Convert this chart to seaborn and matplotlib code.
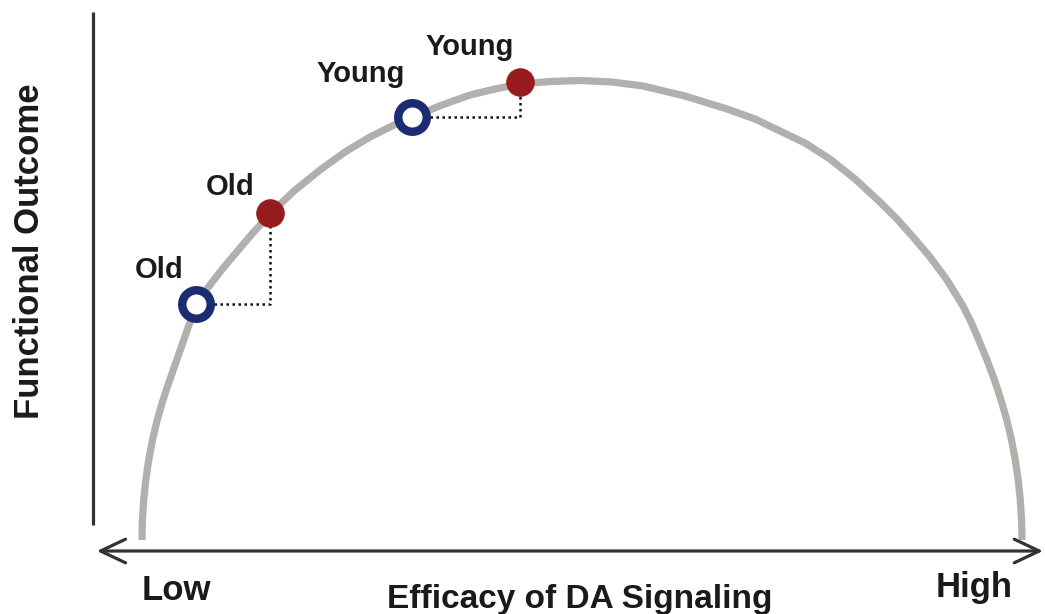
import matplotlib
matplotlib.use("Agg")
import matplotlib.pyplot as plt
import seaborn as sns
import pandas as pd

# ---- data (efficacy of DA signaling vs functional outcome, arbitrary units) ----
curve_x = [4.90, 4.94, 5.07, 5.28, 5.57, 5.95, 6.42, 7.00, 7.60, 8.20, 8.90, 9.60,
           10.30, 11.10, 12.00, 13.10, 14.20, 15.90, 17.70, 20.10, 22.70, 25.20,
           27.70, 29.90, 32.00, 34.90, 37.70, 40.20, 42.70, 45.70, 48.80, 51.90,
           55.00, 59.20, 63.40, 66.20, 68.70, 71.20, 73.70, 76.20, 78.70, 80.40,
           82.00, 83.70, 85.40, 87.00, 87.80, 88.50, 89.40, 90.15, 90.80, 91.38,
           91.85, 92.23, 92.52, 92.73, 92.86, 92.90]
curve_y = [0.80, 2.80, 4.80, 6.80, 8.80, 10.80, 12.80, 14.80, 16.60, 18.30, 20.30, 22.30,
           24.20, 25.50, 26.70, 28.10, 29.40, 31.40, 33.40, 35.70, 37.80, 39.60,
           41.10, 42.20, 43.10, 44.30, 45.30, 45.90, 46.40, 46.65, 46.75, 46.60,
           46.20, 45.20, 43.90, 42.90, 41.70, 40.50, 38.90, 36.90, 34.60, 32.90,
           31.10, 29.10, 26.80, 24.20, 22.60, 21.00, 18.80, 16.80, 14.80, 12.80,
           10.80, 8.80, 6.80, 4.80, 2.80, 0.80]

group_labels = ["Old", "Young"]
baseline_x = [10.3, 31.9]   # open circles
baseline_y = [24.4, 43.1]
shifted_x = [17.7, 42.7]    # filled circles
shifted_y = [33.5, 46.6]

x_label = "Efficacy of DA Signaling"
y_label = "Functional Outcome"
x_low, x_high = "Low", "High"

# ---- style ----
sns.set_style("white")
plt.rcParams["font.family"] = ["Liberation Sans", "DejaVu Sans"]
plt.rcParams["font.weight"] = "bold"

W, H = 1045, 614
fig = plt.figure(figsize=(W / 100, H / 100), dpi=100)
ax = fig.add_axes([93 / W, (H - 548) / H, 950 / W, 536 / H])
ax.set_xlim(0, 95)
ax.set_ylim(0, 53.6)
ax.set_axis_off()

CURVE = "#b0b0ad"
NAVY = "#1c2c72"
RED = "#981b1e"
TXT = "#1a1a1a"
AXC = "#333333"

# curve
sns.lineplot(x=curve_x, y=curve_y, sort=False, ax=ax, color=CURVE, linewidth=5.2,
             solid_capstyle="butt", solid_joinstyle="round", zorder=2)

# dotted connectors
for bx, by, sx, sy in zip(baseline_x, baseline_y, shifted_x, shifted_y):
    ax.plot([bx, sx, sx], [by, by, sy], color="#111111", linewidth=1.8,
            linestyle=(0, (1, 1.4)), zorder=3)

# markers
df_b = pd.DataFrame({"x": baseline_x, "y": baseline_y, "g": group_labels})
df_s = pd.DataFrame({"x": shifted_x, "y": shifted_y, "g": group_labels})
sns.scatterplot(data=df_b, x="x", y="y", ax=ax, s=20.5 ** 2, facecolor="white",
                edgecolor=NAVY, linewidth=6.1, zorder=5, legend=False)
sns.scatterplot(data=df_s, x="x", y="y", ax=ax, s=20 ** 2, color=RED,
                edgecolor=RED, linewidth=0.5, zorder=5, legend=False)

# labels
b_offsets = [(-26.6, 18.7), (-36.7, 25.0)]
s_offsets = [(-28.8, 13.0), (-36.0, 19.4)]
for lab, x, y, off in zip(group_labels, baseline_x, baseline_y, b_offsets):
    ax.annotate(lab, (x, y), xytext=off, textcoords="offset points", ha="center",
                va="baseline", fontsize=21, fontweight="bold", color=TXT)
for lab, x, y, off in zip(group_labels, shifted_x, shifted_y, s_offsets):
    ax.annotate(lab, (x, y), xytext=off, textcoords="offset points", ha="center",
                va="baseline", fontsize=21, fontweight="bold", color=TXT)

# axes lines
ax.plot([0, 0], [0.043, 1.0], transform=ax.transAxes, color=AXC, linewidth=2.3,
        clip_on=False, solid_capstyle="butt")
ax.annotate("", xy=(0.004, -0.0056), xytext=(1.0, -0.0056), xycoords="axes fraction",
            textcoords="axes fraction",
            arrowprops=dict(arrowstyle="<->,head_length=1.8,head_width=0.85",
                            color=AXC, linewidth=2.3, mutation_scale=10,
                            shrinkA=0, shrinkB=0))

# axis texts
fig.text(30 / W, 1 - 251 / H, y_label, rotation=90, ha="center", va="center",
         fontsize=25, fontweight="bold", color=TXT)
fig.text(176 / W, 1 - 600 / H, x_low, ha="center", va="baseline",
         fontsize=25, fontweight="bold", color=TXT)
fig.text(974 / W, 1 - 597 / H, x_high, ha="center", va="baseline",
         fontsize=25, fontweight="bold", color=TXT)
fig.text(580 / W, 1 - 608 / H, x_label, ha="center", va="baseline",
         fontsize=24, fontweight="bold", color=TXT)

fig.savefig("out.png", dpi=100, facecolor="white")
